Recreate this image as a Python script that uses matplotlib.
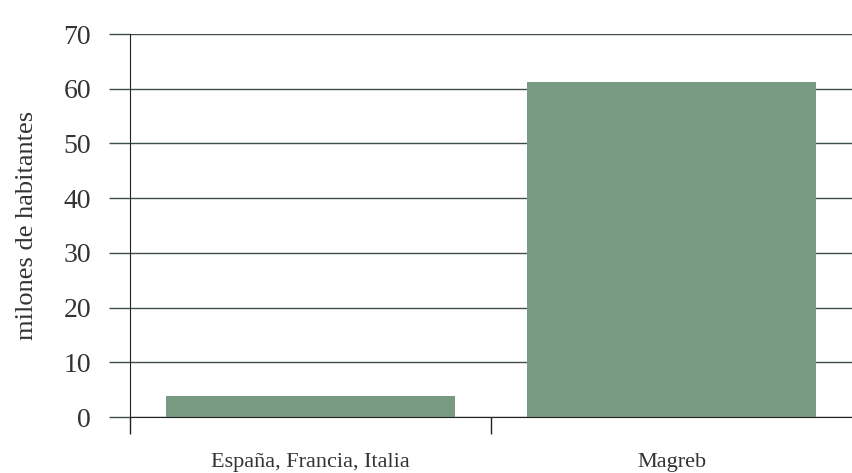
import matplotlib
matplotlib.use("Agg")
import matplotlib.pyplot as plt

categories = ["España, Francia, Italia", "Magreb"]
values = [3.8, 61.2]
yticks = [0, 10, 20, 30, 40, 50, 60, 70]

plt.rcParams["font.family"] = ["Liberation Serif", "DejaVu Serif"]

fig = plt.figure(figsize=(8.52, 4.73), dpi=100)
ax = fig.add_axes([130/852, 1 - 417/473, 1 - 130/852, (417 - 34)/473])

grid_col = "#3f4f44"
ax.bar(range(len(categories)), values, width=0.8, color="#789a82", zorder=3)

ax.set_xlim(-0.5, 1.5)
ax.set_ylim(0, 70)
ax.set_yticks(yticks)
ax.set_yticklabels([str(t) for t in yticks], fontsize=20, color="#333333")
ax.yaxis.grid(True, color=grid_col, linewidth=1.0, zorder=0)
ax.tick_params(axis="y", length=15, width=1.0, color=grid_col, pad=13)

ax.set_xticks(range(len(categories)))
ax.set_xticklabels(categories, fontsize=16, color="#333333")
ax.tick_params(axis="x", which="major", length=0, pad=26)
ax.set_xticks([-0.5, 0.5], minor=True)
ax.tick_params(axis="x", which="minor", length=12, width=1.0, color="#222222")

ax.set_ylabel("milones de habitantes", fontsize=19, color="#333333")
ax.yaxis.set_label_coords(-0.127, 0.5)

for s in ["top", "right"]:
    ax.spines[s].set_visible(False)
ax.spines["left"].set_color("#222222")
ax.spines["bottom"].set_color("#222222")
ax.spines["left"].set_zorder(4)
ax.spines["bottom"].set_zorder(4)

fig.savefig("out.png", dpi=100)
